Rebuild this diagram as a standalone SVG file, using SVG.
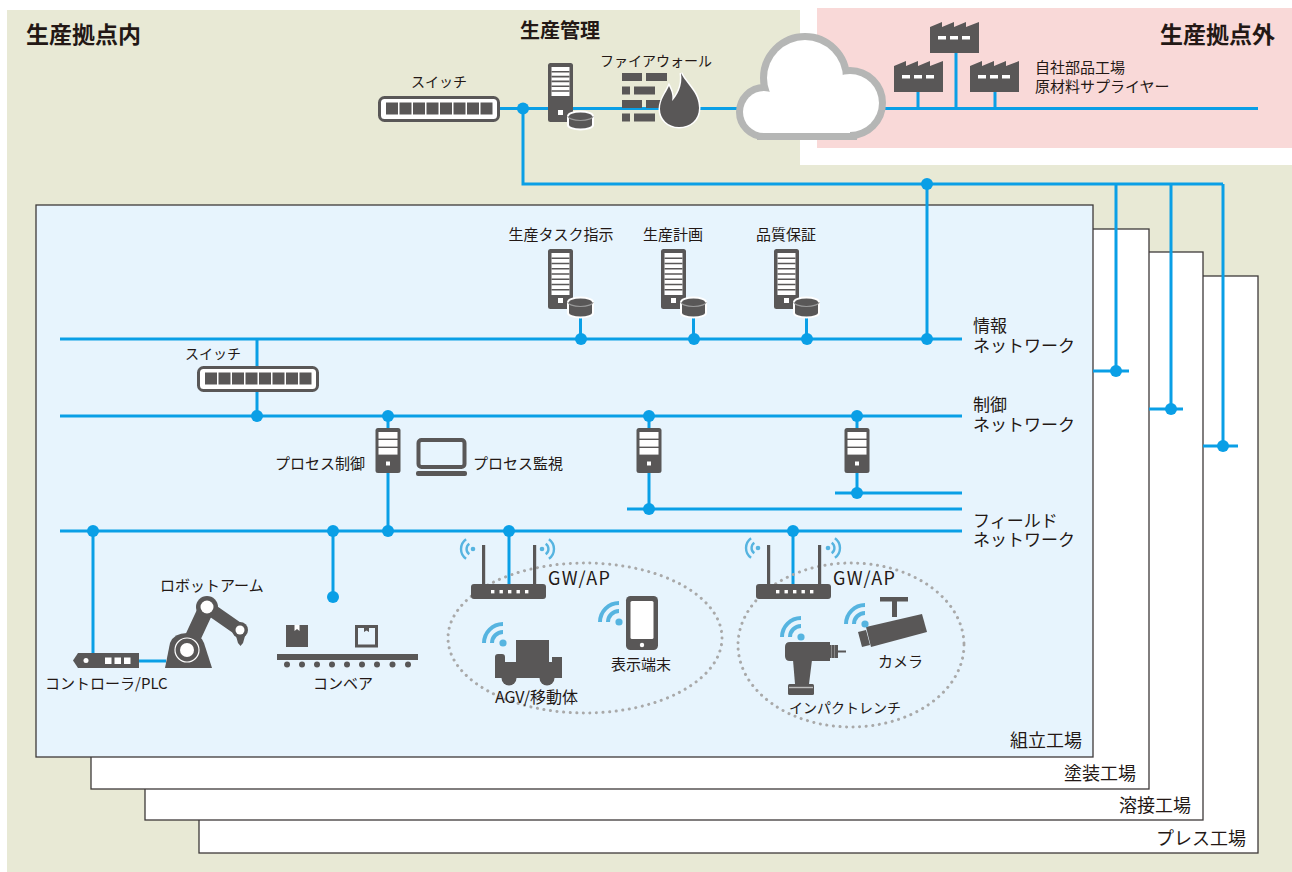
<svg xmlns="http://www.w3.org/2000/svg" xmlns:xlink="http://www.w3.org/1999/xlink" width="1292" height="872" viewBox="0 0 1292 872">
<style>
text{font-family:"Noto Sans CJK JP","Noto Sans",sans-serif;fill:#231815}
.t14{font-size:14px}
.t15{font-size:15px}
.t16{font-size:16px}
.t17{font-size:17px}
.t18{font-size:18px}
.title{font-size:23px;font-weight:bold}
.sub{font-size:20px;font-weight:bold}
.net{fill:none;stroke:#0a9fe6;stroke-width:3}
.dot{fill:#0a9fe6}
.ic{fill:#595757}
.wf{fill:none;stroke:#56b4e0;stroke-width:4}
.wfa{fill:none;stroke:#56b4e0;stroke-width:2.4}
.plant{stroke:#3e3a39;stroke-width:1.3}
.zone{fill:none;stroke:#a9a9a9;stroke-width:3;stroke-dasharray:0.1 6.5;stroke-linecap:round}
</style>
<defs>
  <!-- tower server with storage -->
  <g id="srv-lg">
    <rect width="25" height="60" rx="2.5" class="ic"/>
    <rect x="3.5" y="4" width="18" height="42" fill="#fff"/>
    <path d="M3.5 9.25H21.5M3.5 14.5H21.5M3.5 19.75H21.5M3.5 25H21.5M3.5 30.25H21.5M3.5 35.5H21.5M3.5 40.75H21.5" stroke="#595757" stroke-width="1.6"/>
    <rect x="10" y="49" width="5" height="5" fill="#fff"/>
    <path d="M20 53a12.5 4.5 0 0 1 25 0v11a12.5 4.5 0 0 1 -25 0z" class="ic" stroke="#fff" stroke-width="2"/>
    <path d="M20 53a12.5 4.5 0 0 0 25 0" fill="none" stroke="#9a9a9a" stroke-width="1.2"/>
  </g>
  <g id="srv-top">
    <rect width="25" height="59" rx="2.5" class="ic"/>
    <rect x="3.5" y="4" width="18" height="29" fill="#fff"/>
    <path d="M3.5 8.8H21.5M3.5 13.6H21.5M3.5 18.4H21.5M3.5 23.2H21.5M3.5 28H21.5" stroke="#595757" stroke-width="1.6"/>
    <rect x="10" y="47" width="5" height="5" fill="#fff"/>
    <path d="M20 53a12.5 4.5 0 0 1 25 0v9a12.5 4.5 0 0 1 -25 0z" class="ic" stroke="#fff" stroke-width="2"/>
    <path d="M20 53a12.5 4.5 0 0 0 25 0" fill="none" stroke="#9a9a9a" stroke-width="1.2"/>
  </g>
  <!-- small control server -->
  <g id="srv-sm">
    <rect width="25" height="45" rx="2.5" class="ic"/>
    <rect x="3" y="4" width="19" height="6.6" fill="#fff"/>
    <rect x="3" y="12" width="19" height="6.6" fill="#fff"/>
    <rect x="3" y="20" width="19" height="6.6" fill="#fff"/>
    <rect x="10.5" y="33.5" width="4" height="4" fill="#fff"/>
  </g>
  <!-- network switch -->
  <g id="sw">
    <rect x="1.5" y="1.5" width="119" height="23" rx="5" fill="#fff" stroke="#595757" stroke-width="3"/>
    <g class="ic">
      <rect x="8" y="6.5" width="12" height="12"/><rect x="21.5" y="6.5" width="12" height="12"/>
      <rect x="35" y="6.5" width="12" height="12"/><rect x="48.5" y="6.5" width="12" height="12"/>
      <rect x="62" y="6.5" width="12" height="12"/><rect x="75.5" y="6.5" width="12" height="12"/>
      <rect x="89" y="6.5" width="12" height="12"/><rect x="102.5" y="6.5" width="12" height="12"/>
    </g>
  </g>
  <!-- factory building -->
  <g id="fac">
    <path d="M0 32V6L12 1V6L24 1V6L36 1V6L49 1V32Z" class="ic"/>
    <rect x="8" y="15" width="8" height="3.5" fill="#fff"/>
    <rect x="20" y="15" width="8" height="3.5" fill="#fff"/>
    <rect x="32" y="15" width="8" height="3.5" fill="#fff"/>
  </g>
  <!-- wireless marks -->
  <g id="wf-dev">
    <circle r="3.6" fill="#56b4e0"/>
    <path class="wf" d="M-11 0A11 11 0 0 1 0 -11M-19 0A19 19 0 0 1 0 -19"/>
  </g>
  <g id="wf-l">
    <circle r="2.3" fill="#56b4e0"/>
    <path class="wfa" d="M-3.7 5.3A6.5 6.5 0 0 1 -3.7 -5.3M-6.9 9.8A12 12 0 0 1 -6.9 -9.8"/>
  </g>
  <g id="wf-r">
    <circle r="2.3" fill="#56b4e0"/>
    <path class="wfa" d="M3.7 -5.3A6.5 6.5 0 0 1 3.7 5.3M6.9 -9.8A12 12 0 0 1 6.9 9.8"/>
  </g>
  <!-- wireless gateway -->
  <g id="router">
    <rect x="11" y="0" width="3.2" height="40" class="ic"/>
    <rect x="62" y="0" width="3.2" height="40" class="ic"/>
    <rect x="0" y="39" width="75" height="15" rx="3" class="ic"/>
    <g fill="#fff">
      <rect x="20" y="45" width="3.4" height="3.4"/><rect x="28.5" y="45" width="3.4" height="3.4"/>
      <rect x="37" y="45" width="3.4" height="3.4"/><rect x="45.5" y="45" width="3.4" height="3.4"/>
      <rect x="54" y="45" width="3.4" height="3.4"/>
    </g>
  </g>
</defs>

<!-- site backgrounds -->
<path d="M7 10H800V165H1292V872H7Z" fill="#e8e9d5"/>
<rect x="817" y="8" width="475" height="140" fill="#f9d9d8"/>

<!-- plant stack -->
<g id="plant-press"><rect x="199" y="276" width="1059" height="577" fill="#fff" class="plant"/></g>
<g id="plant-weld"><rect x="145" y="252" width="1058" height="568" fill="#fff" class="plant"/></g>
<g id="plant-paint"><rect x="91" y="229" width="1058" height="560" fill="#fff" class="plant"/></g>
<g id="plant-assembly"><rect x="36" y="205" width="1057" height="552" fill="#e7f4fd" class="plant"/></g>

<!-- connectors -->
<g id="connectors">
  <path class="net" d="M500 108.5H740M880 108.5H1258"/>
  <path class="net" d="M918 92V108.5M956 52V108.5M995 92V108.5"/>
  <path class="net" d="M523 108.5V184H1223M927 184V339M1116 184V371M1171 184V409M1223 184V446"/>
  <path class="net" d="M1093 371H1129M1149 409H1183M1203 446H1238"/>
  <path class="net" d="M60 339H962M60 416H962M60 531H962M627 509H962M835 493H962"/>
  <path class="net" d="M580.5 316V339M693.5 316V339M806.5 316V339"/>
  <path class="net" d="M257 339V416M388 416V531M649 416V509M857 416V493"/>
  <path class="net" d="M93 531V661H166M333 531V597M509 531V585M793 531V585"/>
  <g class="dot">
    <circle cx="523" cy="108.5" r="6"/>
    <circle cx="927" cy="184" r="6"/>
    <circle cx="927" cy="339" r="6"/>
    <circle cx="1116" cy="371" r="6"/>
    <circle cx="1171" cy="409" r="6"/>
    <circle cx="1223" cy="446" r="6"/>
    <circle cx="581" cy="339" r="6"/>
    <circle cx="694" cy="339" r="6"/>
    <circle cx="807" cy="339" r="6"/>
    <circle cx="257" cy="416" r="6"/>
    <circle cx="388" cy="416" r="6"/>
    <circle cx="649" cy="416" r="6"/>
    <circle cx="857" cy="416" r="6"/>
    <circle cx="857" cy="493" r="6"/>
    <circle cx="649" cy="509" r="6"/>
    <circle cx="93" cy="531" r="6"/>
    <circle cx="333" cy="531" r="6"/>
    <circle cx="388" cy="531" r="6"/>
    <circle cx="509" cy="531" r="6"/>
    <circle cx="793" cy="531" r="6"/>
    <circle cx="333" cy="597" r="6"/>
  </g>
</g>

<!-- titles -->
<text class="title" x="26" y="43">生産拠点内</text>
<text class="title" x="1275" y="43" text-anchor="end">生産拠点外</text>

<!-- production management -->
<g id="mgmt">
  <text class="sub" x="560" y="38" text-anchor="middle">生産管理</text>
  <use xlink:href="#srv-top" x="548" y="63"/>
</g>

<g id="switch-top">
  <text class="t14" x="439" y="87" text-anchor="middle">スイッチ</text>
  <use xlink:href="#sw" x="378" y="96"/>
</g>

<g id="firewall">
  <text class="t14" x="600" y="66">ファイアウォール</text>
  <g class="ic">
    <rect x="622" y="73" width="20" height="8"/><rect x="646" y="73" width="21" height="8"/>
    <rect x="622" y="86.5" width="8" height="8"/><rect x="634" y="86.5" width="21" height="8"/>
    <rect x="622" y="100" width="20" height="8"/><rect x="646" y="100" width="21" height="8"/>
    <rect x="622" y="113.5" width="8" height="8"/><rect x="634" y="113.5" width="21" height="8"/>
  </g>
  <path d="M681 73C686 84 699 92 699 108C699 120 690 127 679 127C668 127 660 119 660 109C660 99 666 93 669 86C672 92 673 96 672 101C677 96 683 86 681 73Z" class="ic" stroke="#fff" stroke-width="3" paint-order="stroke"/>
</g>

<g id="cloud">
  <g fill="#fff" stroke="#b5b6b5" stroke-width="14">
    <circle cx="805" cy="78" r="38"/>
    <circle cx="850" cy="103" r="29"/>
    <circle cx="764" cy="112" r="21"/>
    <rect x="764" y="103" width="86" height="30"/>
  </g>
  <g fill="#fff">
    <circle cx="805" cy="78" r="38"/>
    <circle cx="850" cy="103" r="29"/>
    <circle cx="764" cy="112" r="21"/>
    <rect x="764" y="103" width="86" height="30"/>
  </g>
</g>

<g id="suppliers">
  <use xlink:href="#fac" x="930" y="21"/>
  <use xlink:href="#fac" x="894" y="60"/>
  <use xlink:href="#fac" x="970" y="60"/>
  <text class="t15" x="1035" y="73">自社部品工場<tspan x="1035" y="92">原材料サプライヤー</tspan></text>
</g>

<!-- information network servers -->
<g id="srv-task">
  <text class="t15" x="561" y="240" text-anchor="middle">生産タスク指示</text>
  <use xlink:href="#srv-lg" x="548" y="249"/>
</g>
<g id="srv-plan">
  <text class="t15" x="673" y="240" text-anchor="middle">生産計画</text>
  <use xlink:href="#srv-lg" x="661" y="249"/>
</g>
<g id="srv-qa">
  <text class="t15" x="786" y="240" text-anchor="middle">品質保証</text>
  <use xlink:href="#srv-lg" x="774" y="249"/>
</g>

<!-- network labels -->
<g id="net-labels">
  <text class="t17" x="973" y="332">情報<tspan x="973" y="352">ネットワーク</tspan></text>
  <text class="t17" x="973" y="411">制御<tspan x="973" y="431">ネットワーク</tspan></text>
  <text class="t17" x="973" y="527">フィールド<tspan x="973" y="546">ネットワーク</tspan></text>
</g>

<g id="switch-mid">
  <text class="t14" x="185" y="359">スイッチ</text>
  <use xlink:href="#sw" x="197" y="366"/>
</g>

<!-- control level -->
<g id="ctl-process">
  <text class="t15" x="365" y="469" text-anchor="end">プロセス制御</text>
  <use xlink:href="#srv-sm" x="375.5" y="428"/>
</g>
<g id="monitor">
  <rect x="418.5" y="440" width="46" height="27" rx="3" fill="none" stroke="#595757" stroke-width="4"/>
  <rect x="416" y="471" width="51" height="5" rx="2" class="ic"/>
  <text class="t15" x="473" y="469">プロセス監視</text>
</g>
<g id="ctl-2"><use xlink:href="#srv-sm" x="636.5" y="428"/></g>
<g id="ctl-3"><use xlink:href="#srv-sm" x="844.5" y="428"/></g>

<!-- field level -->
<g id="plc">
  <path d="M73 660.5L78 653H139V668H78Z" class="ic"/>
  <circle cx="86" cy="660.5" r="2.5" fill="#fff"/>
  <rect x="105" y="657.5" width="6.5" height="6.5" fill="#fff"/>
  <rect x="114.5" y="657.5" width="6.5" height="6.5" fill="#fff"/>
  <rect x="124" y="657.5" width="6.5" height="6.5" fill="#fff"/>
  <text class="t15" x="45" y="689">コントローラ/PLC</text>
</g>

<g id="robot">
  <text class="t15" x="160" y="591">ロボットアーム</text>
  <path d="M165 668L170 643Q174 633 187 633Q200 633 204 643L212 668Z" class="ic"/>
  <path d="M187 650L207 607" stroke="#595757" stroke-width="16" stroke-linecap="round"/>
  <path d="M207 607L240 630" stroke="#595757" stroke-width="13" stroke-linecap="round"/>
  <circle cx="187" cy="650" r="12" class="ic" stroke="#fff" stroke-width="1.2"/>
  <circle cx="187" cy="650" r="7" fill="#fff"/>
  <circle cx="207" cy="607" r="11" class="ic"/>
  <circle cx="207" cy="607" r="6.5" fill="#fff"/>
  <circle cx="240" cy="630" r="8" class="ic"/>
  <circle cx="240" cy="630" r="4.5" fill="#fff"/>
  <path d="M236 636H245L243 643L240.5 646L238 643Z" class="ic"/>
</g>

<g id="conveyor">
  <rect x="286" y="625" width="22" height="22" class="ic"/>
  <path d="M294.5 625H299.5V631L297 629L294.5 631Z" fill="#fff"/>
  <rect x="356.5" y="626.5" width="20" height="19.5" fill="none" stroke="#595757" stroke-width="3"/>
  <path d="M364 627H369V632L366.5 630.5L364 632Z" class="ic"/>
  <rect x="277" y="654" width="141" height="6" class="ic"/>
  <g class="ic">
    <circle cx="287" cy="664.5" r="3"/><circle cx="302" cy="664.5" r="3"/><circle cx="317" cy="664.5" r="3"/>
    <circle cx="332" cy="664.5" r="3"/><circle cx="347" cy="664.5" r="3"/><circle cx="362" cy="664.5" r="3"/>
    <circle cx="377" cy="664.5" r="3"/><circle cx="392.5" cy="664.5" r="3"/><circle cx="408" cy="664.5" r="3"/>
  </g>
  <text class="t15" x="343" y="689" text-anchor="middle">コンベア</text>
</g>

<!-- wireless cell 1 -->
<g id="cell-1">
  <ellipse class="zone" cx="585" cy="638" rx="137" ry="75"/>
  <use xlink:href="#router" x="471" y="545"/>
  <use xlink:href="#wf-l" x="473" y="549"/>
  <use xlink:href="#wf-r" x="542" y="549"/>
  <text class="t18" x="548" y="585" textLength="62" lengthAdjust="spacing">GW/AP</text>
</g>
<g id="terminal">
  <rect x="626" y="596" width="32" height="54" rx="4.5" class="ic"/>
  <rect x="630.5" y="601" width="23" height="38" rx="1.5" fill="#fff"/>
  <circle cx="642" cy="645" r="2.2" fill="#fff"/>
  <use xlink:href="#wf-dev" x="619" y="622"/>
  <text class="t15" x="641" y="670" text-anchor="middle">表示端末</text>
</g>
<g id="agv">
  <rect x="516" y="640" width="33" height="26" class="ic"/>
  <circle cx="509" cy="678" r="7.5" class="ic"/>
  <circle cx="547" cy="678" r="7.5" class="ic"/>
  <path d="M495 678V657Q495 654 498 654H502Q505 654 505 657V662H552V657H562V678Z" class="ic"/>
  <use xlink:href="#wf-dev" x="503" y="643"/>
  <text class="t16" x="495" y="703">AGV/移動体</text>
</g>

<!-- wireless cell 2 -->
<g id="cell-2">
  <ellipse class="zone" cx="851" cy="645" rx="113" ry="82"/>
  <use xlink:href="#router" x="756" y="545"/>
  <use xlink:href="#wf-l" x="758" y="548"/>
  <use xlink:href="#wf-r" x="828" y="548"/>
  <text class="t18" x="833" y="585" textLength="62" lengthAdjust="spacing">GW/AP</text>
</g>
<g id="wrench">
  <path d="M790 642H830V661H790Q785 661 785 656V647Q785 642 790 642Z" class="ic"/>
  <rect x="830" y="645" width="8" height="13" class="ic"/>
  <path d="M831.5 645V658M834.5 645V658" stroke="#8a8a8a" stroke-width="1"/>
  <path d="M838 651.5H846" stroke="#595757" stroke-width="2"/>
  <path d="M793 660H812L809 684H795Z" class="ic"/>
  <rect x="788" y="684" width="26" height="11" rx="1.5" class="ic"/>
  <path d="M789 687.5H813" stroke="#bdbdbd" stroke-width="1.4"/>
  <use xlink:href="#wf-dev" x="801" y="637"/>
  <text class="t14" x="789" y="713">インパクトレンチ</text>
</g>
<g id="camera">
  <rect x="880" y="597" width="28" height="4.5" class="ic"/>
  <rect x="892" y="601" width="5" height="16" class="ic"/>
  <path d="M866 627L922 614L927 632L871 647Z" class="ic"/>
  <path d="M858 632L866 630L870 645L862 647Z" class="ic"/>
  <use xlink:href="#wf-dev" x="865" y="624"/>
  <text class="t15" x="878" y="667">カメラ</text>
</g>

<!-- plant names -->
<g id="plant-labels">
  <text class="t18" x="1082" y="747" text-anchor="end">組立工場</text>
  <text class="t18" x="1136" y="780" text-anchor="end">塗装工場</text>
  <text class="t18" x="1191" y="812" text-anchor="end">溶接工場</text>
  <text class="t18" x="1246" y="845" text-anchor="end">プレス工場</text>
</g>
</svg>
